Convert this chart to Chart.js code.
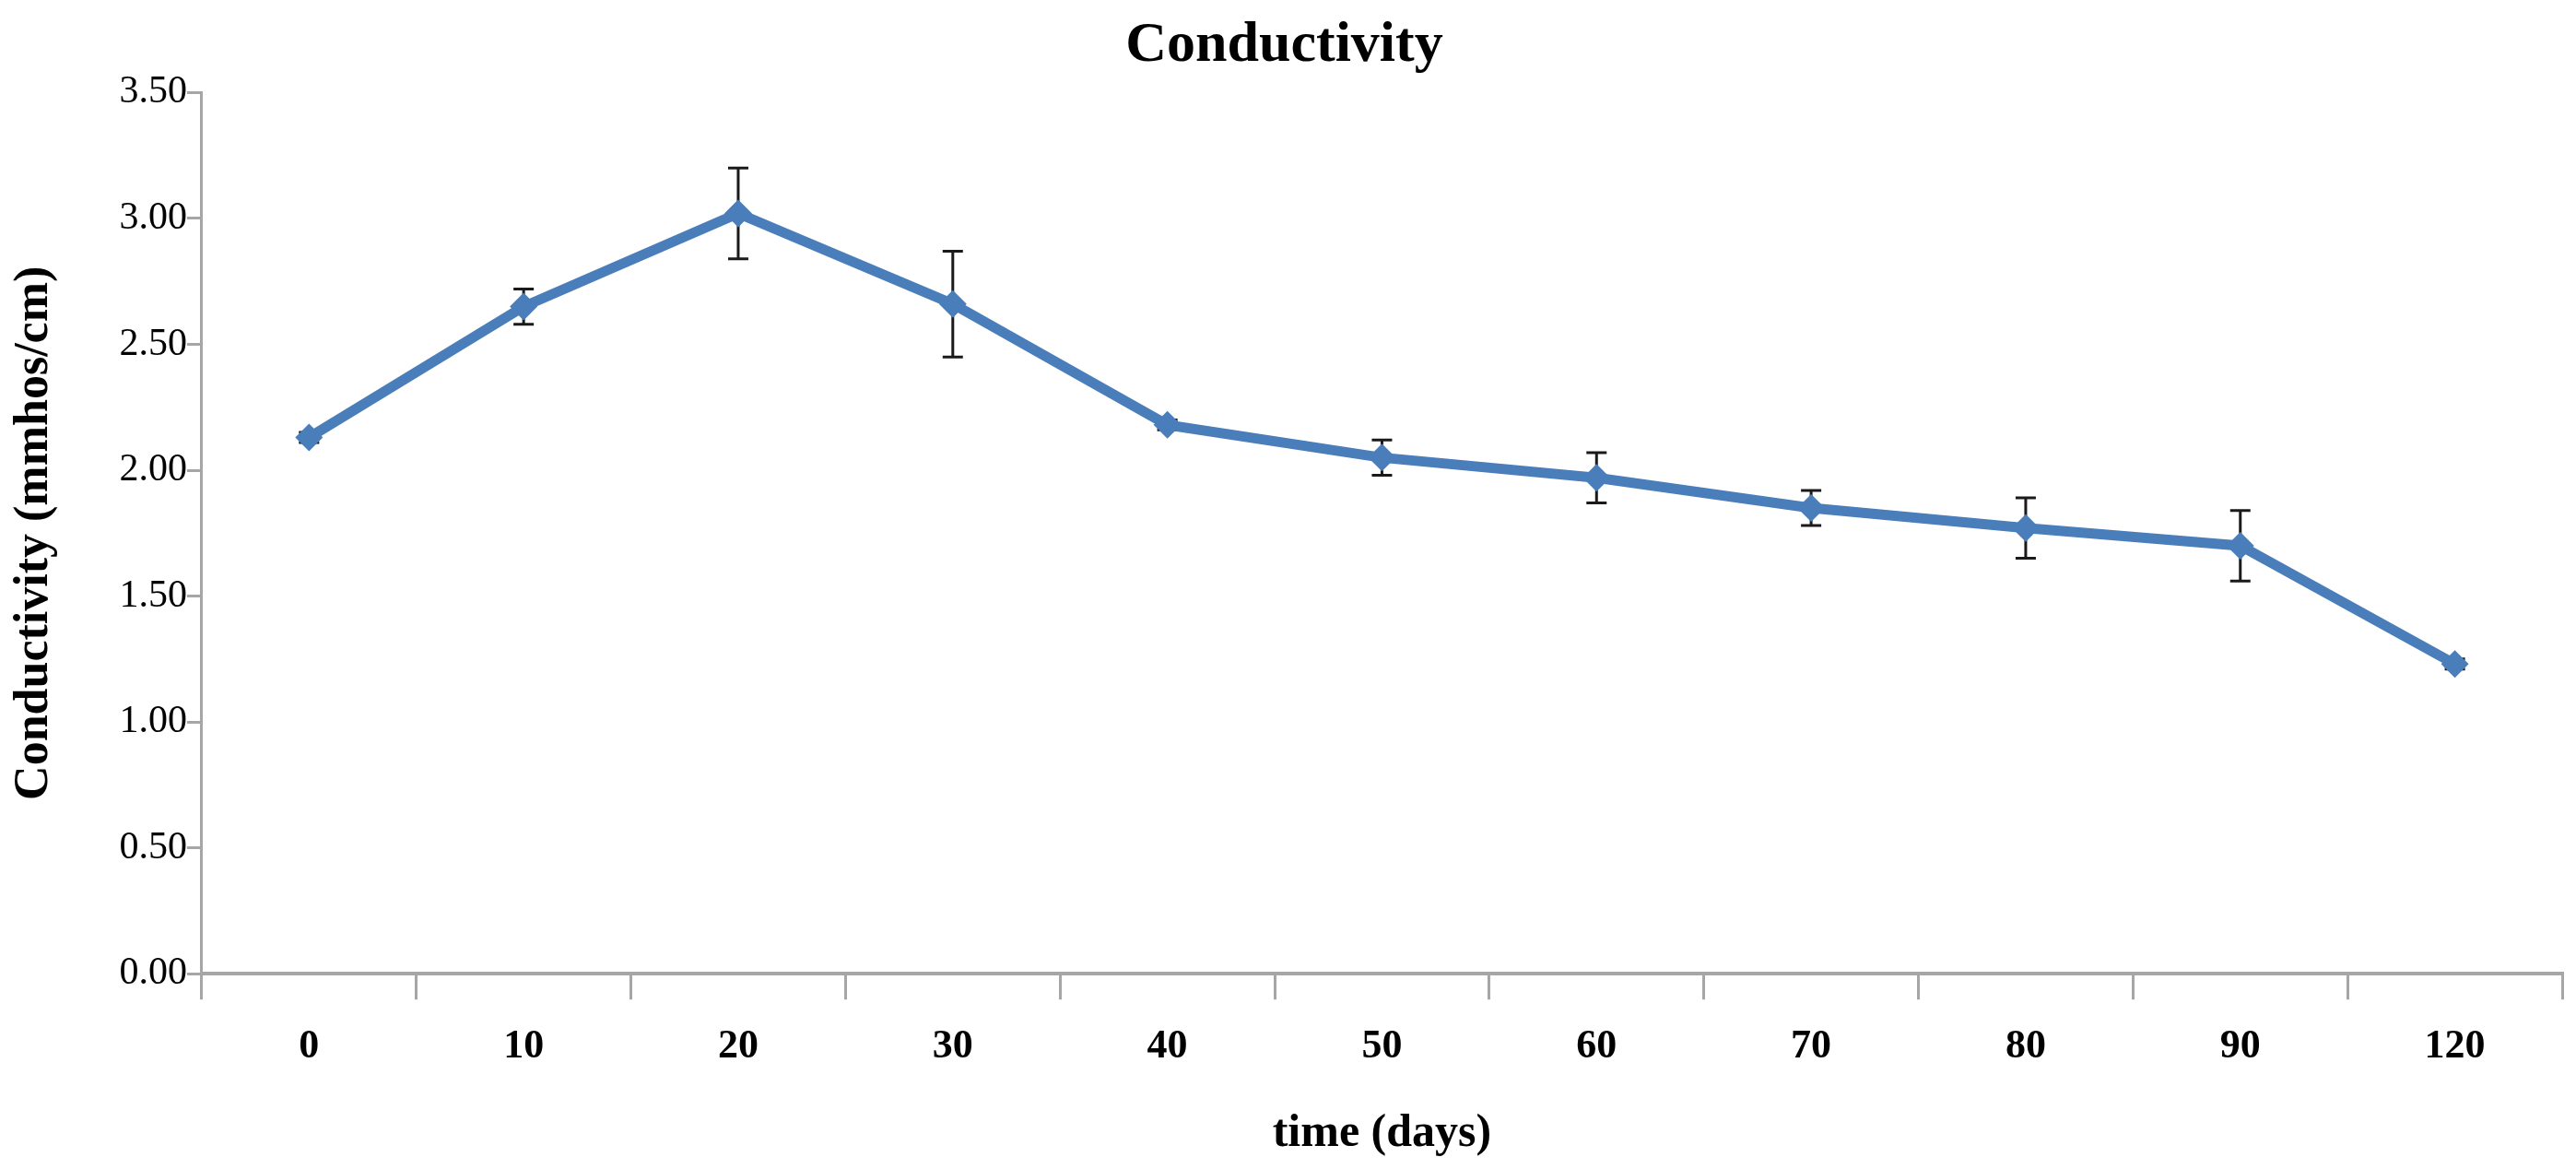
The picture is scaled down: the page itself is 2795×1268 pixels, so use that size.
<!DOCTYPE html>
<html>
<head>
<meta charset="utf-8">
<script src="https://cdn.jsdelivr.net/npm/chart.js@4/dist/chart.umd.min.js"></script>
<style>
  html, body { margin: 0; padding: 0; background: #fff; }
  #wrap { width: 2795px; height: 1268px; }
</style>
</head>
<body>
<div id="wrap"><canvas id="chart"></canvas></div>
<script>
/* ---------- data ---------- */
const days         = ["0", "10", "20", "30", "40", "50", "60", "70", "80", "90", "120"];
const conductivity = [2.13, 2.65, 3.02, 2.66, 2.18, 2.05, 1.97, 1.85, 1.77, 1.70, 1.23];
const errBar       = [0.02, 0.07, 0.18, 0.21, 0.02, 0.07, 0.10, 0.07, 0.12, 0.14, 0.02];
const yTicks       = [0, 0.5, 1, 1.5, 2, 2.5, 3, 3.5];

const AXIS = "#a6a6a6";
const BLUE = "#4a7ebb";
const SERIF = "'Liberation Serif', 'Times New Roman', serif";

/* ---------- error bars, drawn under the line ---------- */
const errorBars = {
  id: "errorBars",
  beforeDatasetsDraw(chart) {
    const { ctx, scales: { x, y } } = chart;
    ctx.save();
    ctx.strokeStyle = "#1a1a1a";
    ctx.lineWidth = 3;
    conductivity.forEach((v, i) => {
      const px  = x.getPixelForValue(i);
      const top = y.getPixelForValue(v + errBar[i]);
      const bot = y.getPixelForValue(v - errBar[i]);
      ctx.beginPath();
      ctx.moveTo(px, top); ctx.lineTo(px, bot);
      ctx.moveTo(px - 11, top); ctx.lineTo(px + 11, top);
      ctx.moveTo(px - 11, bot); ctx.lineTo(px + 11, bot);
      ctx.stroke();
    });
    ctx.restore();
  }
};

/* ---------- chart ---------- */
new Chart(document.getElementById("chart"), {
  type: "line",
  data: {
    labels: days,
    datasets: [{
      label: "Conductivity",
      data: conductivity,
      borderColor: BLUE,
      backgroundColor: BLUE,
      borderWidth: 11,
      pointStyle: "rectRot",
      pointRadius: 15,
      pointBorderWidth: 0,
      tension: 0
    }]
  },
  options: {
    responsive: true,
    maintainAspectRatio: false,
    animation: false,
    layout: { padding: { left: 6, right: 14, top: 0, bottom: 8 } },
    plugins: {
      legend: { display: false },
      tooltip: { enabled: false },
      title: {
        display: true,
        text: "Conductivity",
        color: "#000",
        font: { family: SERIF, size: 62, weight: "bold" },
        padding: { top: 13, bottom: 13 }
      }
    },
    scales: {
      x: {
        offset: true,
        grid: {
          offset: true,
          drawOnChartArea: false,
          drawTicks: true,
          tickLength: 28,
          color: AXIS,
          lineWidth: 3
        },
        border: { color: AXIS, width: 4 },
        ticks: {
          color: "#000",
          padding: 25,
          font: { family: SERIF, size: 44, weight: "bold" }
        },
        title: {
          display: true,
          text: "time (days)",
          color: "#000",
          font: { family: SERIF, size: 50, weight: "bold" },
          padding: { top: 13, bottom: 0 }
        }
      },
      y: {
        min: 0,
        max: 3.5,
        afterBuildTicks: axis => { axis.ticks = yTicks.map(v => ({ value: v })); },
        grid: {
          drawOnChartArea: false,
          drawTicks: true,
          tickLength: 16,
          color: AXIS,
          lineWidth: 3
        },
        border: { color: AXIS, width: 3 },
        ticks: {
          color: "#000",
          padding: 0,
          font: { family: SERIF, size: 42 },
          callback: v => Number(v).toFixed(2)
        },
        title: {
          display: true,
          text: "Conductivity (mmhos/cm)",
          color: "#000",
          font: { family: SERIF, size: 52, weight: "bold" },
          padding: { top: 0, bottom: 61 }
        }
      }
    }
  },
  plugins: [errorBars]
});
</script>
</body>
</html>
